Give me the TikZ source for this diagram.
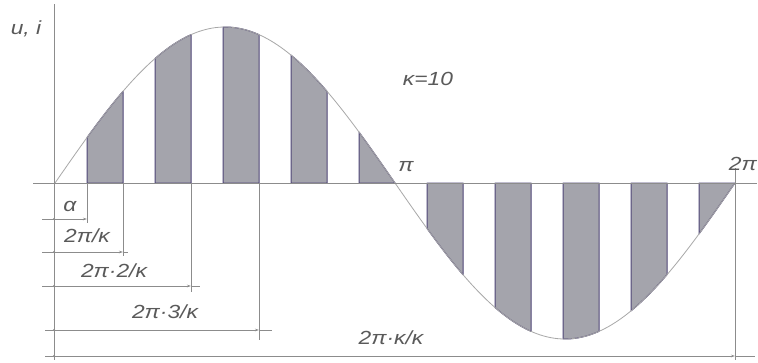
\documentclass[tikz,border=0pt]{standalone}
\usepackage{fontspec}
\setmainfont{Liberation Sans}[FakeStretch=1.2]
\usetikzlibrary{arrows.meta}
\definecolor{stripfill}{HTML}{A4A4AC}
\definecolor{stripedge}{HTML}{4F4677}
\definecolor{axisgray}{HTML}{8C8C8C}
\definecolor{curvegray}{HTML}{A8A8A8}
\definecolor{labelgray}{HTML}{5A5A5A}
\begin{document}
\begin{tikzpicture}[x=1pt,y=-1pt,
  axisline/.style={draw=axisgray, line width=0.8pt},
  dimline/.style={draw=axisgray, line width=0.6pt},
  extline/.style={draw=axisgray, line width=0.6pt},
  strip/.style={fill=stripfill, draw=stripedge, line width=1pt, line join=round},
  lbl/.style={font=\fontsize{19}{19}\selectfont\itshape, text=labelgray, inner sep=0pt},
  dimtip/.style={-{Stealth[length=4pt,width=2.5pt]}},
  dimdot/.style={fill=axisgray, circle, inner sep=0pt, minimum size=2.2pt}
]
\useasboundingbox (0,0) rectangle (758,362);
\fill[white] (0,0) rectangle (758,362);

% shaded strips
\foreach \i in {0,...,9}{
  \pgfmathsetmacro\a{87+68*\i}
  \pgfmathsetmacro\b{min(\a+36,735)}
  \filldraw[strip] (\a,183) -- plot[domain=\a:\b,samples=24] (\x,{183-156*sin(((\x-55)/680)*360)}) -- (\b,183) -- cycle;
}

% sine curve
\draw[curvegray, line width=0.8pt] plot[domain=55:735,samples=200] (\x,{183-156*sin(((\x-55)/680)*360)});

% axes
\coordinate (ytop) at (54,4);
\coordinate (ybot) at (54,360);
\coordinate (xl) at (33,183);
\coordinate (xr) at (757,183);
\draw[axisline] (ytop) -- (ybot);
\draw[axisline] (xl) -- (xr);

% extension lines
\coordinate (e1t) at (87,183);  \coordinate (e1b) at (87,223);
\coordinate (e2t) at (123,183); \coordinate (e2b) at (123,256);
\coordinate (e3t) at (191,183); \coordinate (e3b) at (191,292);
\coordinate (e4t) at (259,183); \coordinate (e4b) at (259,340);
\coordinate (e5t) at (735,168); \coordinate (e5b) at (735,360);
\draw[extline] (e1t) -- (e1b);
\draw[extline] (e2t) -- (e2b);
\draw[extline] (e3t) -- (e3b);
\draw[extline] (e4t) -- (e4b);
\draw[extline] (e5t) -- (e5b);

% dimension lines
\coordinate (d1l) at (42,219);  \coordinate (d1a) at (54,219);  \coordinate (d1b) at (87,219);
\coordinate (d2l) at (42,252);  \coordinate (d2a) at (54,252);  \coordinate (d2b) at (123,252); \coordinate (d2r) at (128,252);
\coordinate (d3l) at (42,286);  \coordinate (d3a) at (54,286);  \coordinate (d3b) at (191,286); \coordinate (d3r) at (200,286);
\coordinate (d4l) at (45,330);  \coordinate (d4a) at (54,330);  \coordinate (d4b) at (259,330); \coordinate (d4r) at (272,330);
\coordinate (d5l) at (45,356);  \coordinate (d5a) at (54,356);  \coordinate (d5b) at (735,356); \coordinate (d5r) at (755,356);
\draw[dimline] (d1l) -- (d1a);
\draw[dimline,dimtip] (d1a) -- (d1b);
\draw[dimline] (d2l) -- (d2a);
\draw[dimline,dimtip] (d2a) -- (d2b);
\draw[dimline] (d2b) -- (d2r);
\draw[dimline] (d3l) -- (d3a);
\draw[dimline,dimtip] (d3a) -- (d3b);
\draw[dimline] (d3b) -- (d3r);
\draw[dimline] (d4l) -- (d4a);
\draw[dimline,dimtip] (d4a) -- (d4b);
\draw[dimline] (d4b) -- (d4r);
\draw[dimline] (d5l) -- (d5a);
\draw[dimline,dimtip] (d5a) -- (d5b);
\draw[dimline] (d5b) -- (d5r);
\foreach \c in {d1a,d2a,d3a,d4a,d5a}{\node[dimdot] at (\c) {};}

% labels
\node[lbl] (lui) at (26,29) {u, i};
\node[lbl] (lk) at (428,79) {κ=10};
\node[lbl] (lpi) at (406,167) {π};
\node[lbl, anchor=east] (l2pi) at (757,164) {2π};
\node[lbl] (lal) at (70,206) {α};
\node[lbl] (l1) at (87,236) {2π/κ};
\node[lbl] (l2) at (114,271) {2π·2/κ};
\node[lbl] (l3) at (165,312) {2π·3/κ};
\node[lbl] (lk2) at (391,338) {2π·κ/κ};
\end{tikzpicture}
\end{document}
